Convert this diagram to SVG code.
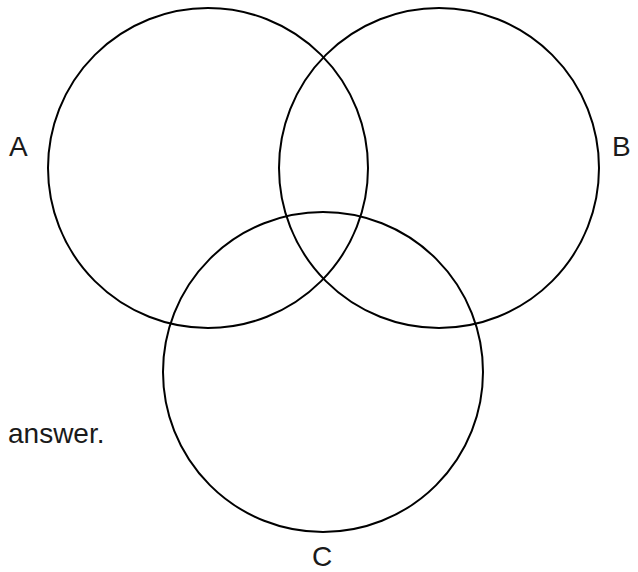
<svg xmlns="http://www.w3.org/2000/svg" width="638" height="572" viewBox="0 0 638 572">
<style>
.c{fill:none;stroke:#000;stroke-width:2}
.t{font-family:"Liberation Sans",Arial,sans-serif;font-size:28px;fill:#1a1a1a}
</style>
<rect width="638" height="572" fill="#fff"/>
<g id="circleA"><circle class="c" cx="208" cy="168" r="160"/></g>
<g id="circleB"><circle class="c" cx="439" cy="168" r="160"/></g>
<g id="circleC"><circle class="c" cx="323" cy="372" r="160"/></g>
<g id="labels">
<text class="t" x="9" y="156">A</text>
<text class="t" x="612" y="156">B</text>
<text class="t" x="312" y="566">C</text>
<text class="t" x="8" y="443">answer.</text>
</g>
</svg>
